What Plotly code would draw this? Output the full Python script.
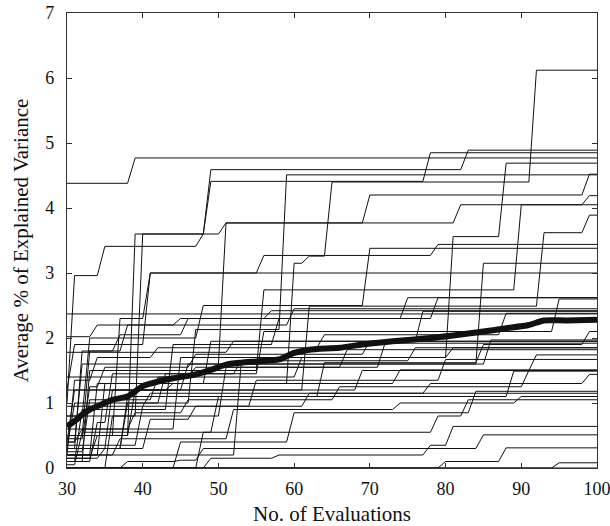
import plotly.graph_objects as go

# ---- data: each run is a non-decreasing step series (value at x=30, then jumps) ----
run_start = [4.38, 1.0, 0.5, 0.8, 0.2, 0.3, 0.6, 0.4, 0.1, 0.3, 0.5, 0.8, 1.2, 0.2,
             0.1, 0.2, 2.37, 0.3, 0.4, 1.78, 0.0, 0.25, 1.4, 0.15, 0.35, 1.2, 0.05,
             0.95, 0.0, 0.2, 0.0, 0.0, 0.0, 0.0, 0.0, 0.0, 0.3, 0.5,
             0.3, 0.2, 0.45, 0.1, 0.4, 0.15, 2.02]
run_jump_x = [
    [39],
    [31, 35, 48, 51, 70, 99],
    [39, 49, 83],
    [40, 49, 78],
    [34, 60, 62, 65, 92],
    [38, 47, 59],
    [45, 81, 88],
    [32, 51, 82, 99],
    [33, 56, 90],
    [36, 62, 93, 99],
    [37, 41, 56, 79],
    [33, 48, 70],
    [31, 41],
    [53, 85],
    [32, 44, 58, 75],
    [35, 49, 77],
    [],
    [38, 64, 85, 99],
    [31, 46, 86],
    [52],
    [36, 51, 72],
    [33, 42, 61, 81],
    [47, 67],
    [34, 39, 69, 92],
    [40, 55, 80],
    [44, 74],
    [32, 50, 89],
    [41, 78, 99],
    [45, 60, 84],
    [37, 52, 74, 90],
    [48, 79, 83],
    [49, 58, 78, 81],
    [38, 45, 48, 85],
    [80, 88],
    [95],
    [],
    [31, 43, 56, 95],
    [33, 38, 60],
    [32, 37, 46, 79],
    [31, 34, 42, 64, 88],
    [33, 35, 47, 70],
    [34, 36, 53, 76],
    [32, 39, 46, 66, 91],
    [35, 41, 47, 62],
    [34, 45, 57],
]
run_jump_y = [
    [4.77],
    [2.96, 3.41, 3.6, 3.77, 4.2, 4.52],
    [3.6, 4.59, 4.89],
    [3.6, 4.41, 4.85],
    [1.3, 3.15, 3.26, 4.4, 6.12],
    [1.0, 2.13, 4.51],
    [1.7, 3.56, 4.69],
    [1.6, 3.77, 4.05, 4.19],
    [1.5, 2.74, 4.05],
    [1.2, 2.49, 3.62, 3.89],
    [2.3, 3.0, 3.27, 3.44],
    [2.0, 2.5, 3.38],
    [1.9, 3.0],
    [1.6, 3.15],
    [0.9, 1.9, 2.3, 2.62],
    [1.3, 1.95, 2.41],
    [],
    [1.1, 1.62, 1.9, 2.1],
    [1.2, 1.6, 1.97],
    [1.95],
    [0.8, 1.55, 1.92],
    [1.05, 1.4, 1.7, 1.85],
    [1.55, 1.82],
    [0.5, 1.2, 1.5, 1.74],
    [0.95, 1.35, 1.67],
    [1.3, 1.51],
    [0.55, 1.1, 1.49],
    [1.15, 1.3, 1.44],
    [0.4, 0.85, 1.18],
    [0.45, 0.9, 1.0, 1.1],
    [0.55, 0.8, 1.05],
    [0.15, 0.2, 0.35, 0.64],
    [0.1, 0.12, 0.3, 0.51],
    [0.1, 0.31],
    [0.08],
    [],
    [1.0, 1.45, 2.1, 2.6],
    [1.8, 2.2, 2.45],
    [1.8, 2.05, 2.3, 2.62],
    [1.35, 1.7, 1.85, 2.05, 2.38],
    [1.25, 1.55, 1.75, 1.95],
    [0.7, 1.45, 1.65, 1.85],
    [0.6, 0.85, 1.05, 1.25, 1.5],
    [0.3, 0.75, 0.95, 1.15],
    [2.2, 2.3, 2.42],
]

# average curve
avg_x = [30, 31, 32, 33, 35, 36, 38, 40, 42, 44, 47, 49, 51, 53, 55, 58, 60, 62, 66,
         69, 73, 78, 81, 85, 88, 91, 93, 96, 100]
avg_y = [0.64, 0.72, 0.82, 0.9, 1.0, 1.05, 1.1, 1.26, 1.33, 1.38, 1.44, 1.51, 1.59,
         1.62, 1.64, 1.67, 1.77, 1.82, 1.85, 1.9, 1.95, 2.0, 2.04, 2.1, 2.15, 2.2,
         2.27, 2.27, 2.28]

x_first, x_last = 30, 100
x_ticks = [30, 40, 50, 60, 70, 80, 90, 100]
y_ticks = [0, 1, 2, 3, 4, 5, 6, 7]

# ---- build thin-line vertices from the step data ----
xs, ys = [], []
for s, jx, jy in zip(run_start, run_jump_x, run_jump_y):
    cur = s
    xs.append(x_first); ys.append(cur)
    for x, v in zip(jx, jy):
        xs.append(x - 1); ys.append(cur)
        xs.append(x); ys.append(v)
        cur = v
    xs.append(x_last); ys.append(cur)
    xs.append(None); ys.append(None)

fig = go.Figure()
fig.add_trace(go.Scatter(x=xs, y=ys, mode="lines",
                         line=dict(color="#111111", width=1), hoverinfo="skip"))
fig.add_trace(go.Scatter(x=avg_x, y=avg_y, mode="lines",
                         line=dict(color="#111111", width=6, shape="spline", smoothing=0.6),
                         hoverinfo="skip"))

axis_common = dict(showgrid=False, zeroline=False, showline=True, linecolor="#333333",
                   linewidth=1.3, ticks="inside", ticklen=5, tickwidth=1,
                   tickcolor="#333333", mirror="ticks", automargin=False,
                   ticklabeloverflow="allow",
                   tickfont=dict(family="Liberation Serif", size=18, color="#111111"))

fig.update_layout(
    width=610, height=526,
    margin=dict(l=67, r=13, t=13, b=58),
    plot_bgcolor="white", paper_bgcolor="white",
    showlegend=False,
    font=dict(family="Liberation Serif", size=18, color="#111111"),
    xaxis=dict(range=[x_first, x_last], tickvals=x_ticks,
               title=dict(text="No. of Evaluations", standoff=12,
                          font=dict(family="Liberation Serif", size=21)),
               ticklabelstandoff=4, **axis_common),
    yaxis=dict(range=[0, 7], tickvals=y_ticks,
               title=dict(text="Average % of Explained Variance", standoff=10,
                          font=dict(family="Liberation Serif", size=21)),
               ticklabelstandoff=8, **axis_common),
)

fig.write_html("out.html")
